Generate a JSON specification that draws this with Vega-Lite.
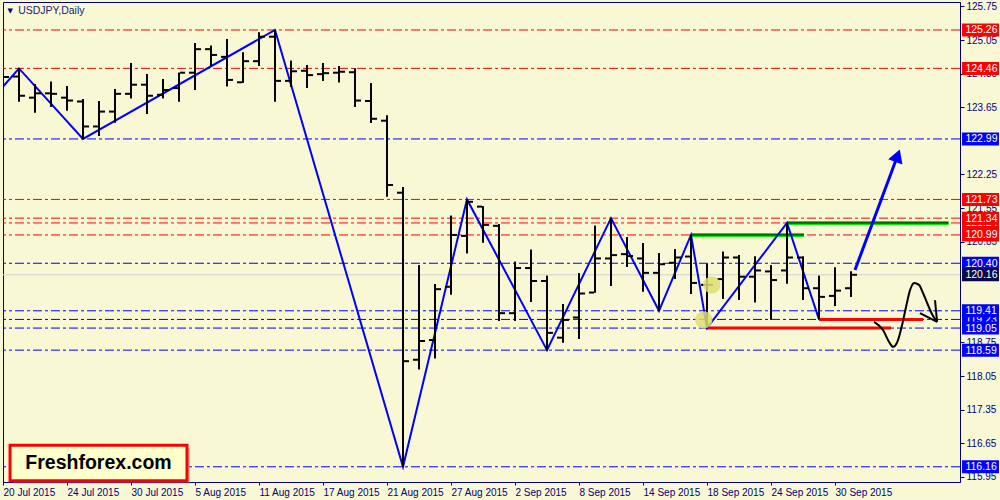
{
  "$schema": "https://vega.github.io/schema/vega-lite/v6.json",
  "width": 957,
  "height": 480,
  "padding": {"left": 3, "top": 2, "right": 40, "bottom": 18},
  "autosize": {"type": "none"},
  "background": "#f8f8d4",
  "config": {
    "font": "Liberation Sans",
    "view": {"stroke": "#000080", "strokeWidth": 1, "fill": "#f8f8d4"},
    "axis": {"grid": false, "domainColor": "#000080", "tickColor": "#000080", "labelColor": "#000080", "labelFont": "Liberation Sans", "labelFontSize": 10, "labelOverlap": false, "labelFlush": false, "labelBound": false}
  },
  "datasets": {
    "bars": [
      {"i":0,"o":124.10,"h":124.34,"l":124.03,"c":124.28},
      {"i":1,"o":124.29,"h":124.46,"l":123.77,"c":123.89},
      {"i":2,"o":123.85,"h":124.13,"l":123.54,"c":123.94},
      {"i":3,"o":123.94,"h":124.18,"l":123.66,"c":123.93},
      {"i":4,"o":123.85,"h":124.09,"l":123.58,"c":123.79},
      {"i":5,"o":123.77,"h":123.82,"l":122.99,"c":123.25},
      {"i":6,"o":123.25,"h":123.78,"l":123.05,"c":123.56},
      {"i":7,"o":123.56,"h":124.03,"l":123.33,"c":123.93},
      {"i":8,"o":123.93,"h":124.57,"l":123.84,"c":124.12},
      {"i":9,"o":124.12,"h":124.34,"l":123.51,"c":123.89},
      {"i":10,"o":123.91,"h":124.24,"l":123.84,"c":124.01},
      {"i":11,"o":124.05,"h":124.37,"l":123.77,"c":124.37},
      {"i":12,"o":124.37,"h":124.99,"l":124.01,"c":124.86},
      {"i":13,"o":124.86,"h":124.93,"l":124.50,"c":124.74},
      {"i":14,"o":124.70,"h":125.07,"l":124.09,"c":124.22},
      {"i":15,"o":124.17,"h":124.79,"l":124.16,"c":124.61},
      {"i":16,"o":124.61,"h":125.21,"l":124.51,"c":125.12},
      {"i":17,"o":125.12,"h":125.26,"l":123.77,"c":124.20},
      {"i":18,"o":124.20,"h":124.62,"l":124.07,"c":124.40},
      {"i":19,"o":124.41,"h":124.53,"l":124.05,"c":124.32},
      {"i":20,"o":124.34,"h":124.57,"l":124.20,"c":124.36},
      {"i":21,"o":124.37,"h":124.51,"l":124.17,"c":124.39},
      {"i":22,"o":124.38,"h":124.46,"l":123.66,"c":123.79},
      {"i":23,"o":123.78,"h":124.15,"l":123.32,"c":123.41},
      {"i":24,"o":123.37,"h":123.48,"l":121.79,"c":122.03},
      {"i":25,"o":121.87,"h":121.99,"l":116.16,"c":118.36},
      {"i":26,"o":118.39,"h":120.36,"l":118.19,"c":118.78},
      {"i":27,"o":118.80,"h":119.97,"l":118.42,"c":119.86},
      {"i":28,"o":119.91,"h":121.39,"l":119.75,"c":120.99},
      {"i":29,"o":120.97,"h":121.73,"l":120.61,"c":121.68},
      {"i":30,"o":121.58,"h":121.59,"l":120.83,"c":121.20},
      {"i":31,"o":121.18,"h":121.22,"l":119.20,"c":119.36},
      {"i":32,"o":119.36,"h":120.43,"l":119.20,"c":120.30},
      {"i":33,"o":120.30,"h":120.68,"l":119.60,"c":120.03},
      {"i":34,"o":120.03,"h":120.14,"l":118.59,"c":118.95},
      {"i":35,"o":118.85,"h":119.55,"l":118.75,"c":119.22},
      {"i":36,"o":119.27,"h":120.19,"l":118.82,"c":119.77},
      {"i":37,"o":119.79,"h":121.18,"l":119.79,"c":120.50},
      {"i":38,"o":120.50,"h":121.34,"l":119.93,"c":120.57},
      {"i":39,"o":120.59,"h":120.94,"l":120.32,"c":120.55},
      {"i":40,"o":120.50,"h":120.82,"l":119.81,"c":120.20},
      {"i":41,"o":120.20,"h":120.61,"l":119.41,"c":120.38},
      {"i":42,"o":120.41,"h":120.69,"l":120.07,"c":120.52},
      {"i":43,"o":120.54,"h":120.99,"l":119.76,"c":119.99},
      {"i":44,"o":119.95,"h":120.39,"l":119.05,"c":119.95},
      {"i":45,"o":120.07,"h":120.64,"l":119.66,"c":120.52},
      {"i":46,"o":120.52,"h":120.57,"l":119.64,"c":120.12},
      {"i":47,"o":120.12,"h":120.54,"l":119.59,"c":120.25},
      {"i":48,"o":120.23,"h":120.36,"l":119.23,"c":120.05},
      {"i":49,"o":120.25,"h":121.24,"l":119.98,"c":120.52},
      {"i":50,"o":120.52,"h":120.54,"l":119.64,"c":119.88},
      {"i":51,"o":119.88,"h":120.14,"l":119.23,"c":119.70},
      {"i":52,"o":119.72,"h":120.31,"l":119.51,"c":119.83},
      {"i":53,"o":119.88,"h":120.23,"l":119.70,"c":120.16}
    ],
    "zig": [
      {"i":-1,"p":123.70},{"i":1,"p":124.46},{"i":5,"p":122.99},{"i":17,"p":125.26},
      {"i":25,"p":116.16},{"i":29,"p":121.73},{"i":34,"p":118.59},{"i":38,"p":121.34},
      {"i":41,"p":119.41},{"i":43,"p":120.99},{"i":44,"p":119.05},{"i":49,"p":121.24},
      {"i":51,"p":119.23}
    ],
    "levels": [
      {"p":125.26,"k":"r"},{"p":124.46,"k":"r"},{"p":121.73,"k":"r"},{"p":121.34,"k":"r"},
      {"p":121.24,"k":"r"},{"p":120.99,"k":"r"},
      {"p":122.99,"k":"b"},{"p":120.40,"k":"b"},{"p":119.41,"k":"b"},{"p":119.23,"k":"b"},
      {"p":119.05,"k":"b"},{"p":118.59,"k":"b"},{"p":116.16,"k":"b"}
    ],
    "hiddenboxes": [{"p":121.24,"k":"r"},{"p":119.23,"k":"b"}],
    "boxes": [
      {"p":125.26,"k":"r"},{"p":124.46,"k":"r"},{"p":122.99,"k":"b"},{"p":121.73,"k":"r"},
      {"p":121.34,"k":"r"},{"p":120.99,"k":"r"},{"p":120.40,"k":"b"},{"p":120.16,"k":"n"},
      {"p":119.41,"k":"b"},{"p":119.05,"k":"b"},{"p":118.59,"k":"b"},{"p":116.16,"k":"b"}
    ],
    "bid": [{"p":120.16}],
    "green": [{"a":43,"b":50.06,"p":120.99},{"a":49,"b":59.1,"p":121.24}],
    "redseg": [{"a":44,"b":55.5,"p":119.05},{"a":51,"b":57.5,"p":119.23}],
    "arrow": [{"i":53.25,"p":120.26},{"i":55.91,"p":122.64}],
    "arrowhead": [{"i":55.91,"p":122.64}],
    "curve": [
      {"i":54.44,"p":119.18},{"i":55.0,"p":119.01},{"i":55.38,"p":118.76},{"i":55.63,"p":118.66},
      {"i":55.94,"p":118.80},{"i":56.19,"p":119.11},{"i":56.44,"p":119.49},{"i":56.69,"p":119.84},
      {"i":56.94,"p":119.99},{"i":57.25,"p":119.95},{"i":57.5,"p":119.78},{"i":57.81,"p":119.53},
      {"i":58.13,"p":119.30},{"i":58.38,"p":119.18}
    ],
    "curvehead": [
      {"g":"a","i":57.31,"p":119.36},{"g":"a","i":58.38,"p":119.18},
      {"g":"b","i":58.25,"p":119.63},{"g":"b","i":58.38,"p":119.18}
    ],
    "spots": [{"i":44.3,"p":119.95},{"i":43.8,"p":119.22}]
  },
  "layer": [
    {
      "data": {"name": "bars"},
      "mark": {"type": "rule", "strokeWidth": 2, "color": "#000000", "clip": true},
      "encoding": {
        "x": {"field": "i", "type": "quantitative", "scale": {"domain": [0, 59.8125], "nice": false, "zero": false, "padding": 0},
          "axis": {"title": null, "orient": "bottom", "grid": false, "values": [0,4,8,12,16,20,24,28,32,36,40,44,48,52], "tickSize": 3, "labelAlign": "left", "labelBaseline": "top", "labelPadding": 2, "labelFlush": false, "labelOverlap": false, "labelBound": false,
            "labelExpr": "['20 Jul 2015','24 Jul 2015','30 Jul 2015','5 Aug 2015','11 Aug 2015','17 Aug 2015','21 Aug 2015','27 Aug 2015','2 Sep 2015','8 Sep 2015','14 Sep 2015','18 Sep 2015','24 Sep 2015','30 Sep 2015'][datum.value/4]"}},
        "y": {"field": "l", "type": "quantitative", "scale": {"domain": [115.843, 125.843], "nice": false, "zero": false, "padding": 0},
          "axis": {"title": null, "orient": "right", "grid": false, "values": [125.75,125.05,124.35,123.65,122.25,121.55,120.85,118.75,118.05,117.35,116.65,115.95], "format": ".2f", "tickSize": 4, "labelAlign": "left", "labelPadding": 2, "labelFlush": false, "labelOverlap": false, "labelBound": false}},
        "y2": {"field": "h"}
      }
    },
    {
      "data": {"name": "levels"},
      "mark": {"type": "rule", "strokeWidth": 1, "strokeDash": [9, 3, 3, 3]},
      "encoding": {
        "y": {"field": "p", "type": "quantitative"},
        "color": {"field": "k", "type": "nominal", "scale": {"domain": ["r", "b", "n"], "range": ["#ff0000", "#0000ff", "#0a0a46"]}, "legend": null}
      }
    },
    {
      "data": {"name": "bid"},
      "mark": {"type": "rule", "strokeWidth": 1, "color": "#d2d2d2"},
      "encoding": {"y": {"field": "p", "type": "quantitative"}}
    },
    {
      "data": {"name": "green"},
      "mark": {"type": "rule", "strokeWidth": 4, "color": "#00ee00"},
      "encoding": {
        "x": {"field": "a", "type": "quantitative"},
        "x2": {"field": "b"},
        "y": {"field": "p", "type": "quantitative"}
      }
    },
    {
      "data": {"name": "green"},
      "mark": {"type": "rule", "strokeWidth": 1, "color": "#000000"},
      "encoding": {
        "x": {"field": "a", "type": "quantitative"},
        "x2": {"field": "b"},
        "y": {"field": "p", "type": "quantitative"}
      }
    },
    {
      "data": {"name": "redseg"},
      "mark": {"type": "rule", "strokeWidth": 3, "color": "#ff0000"},
      "encoding": {
        "x": {"field": "a", "type": "quantitative"},
        "x2": {"field": "b"},
        "y": {"field": "p", "type": "quantitative"}
      }
    },
    {
      "data": {"name": "zig"},
      "mark": {"type": "line", "strokeWidth": 2, "color": "#0000ff", "clip": true},
      "encoding": {
        "x": {"field": "i", "type": "quantitative"},
        "y": {"field": "p", "type": "quantitative"},
        "order": {"field": "i"}
      }
    },
    {
      "data": {"name": "bars"},
      "mark": {"type": "rule", "strokeWidth": 2, "color": "#000000", "clip": true},
      "encoding": {
        "x": {"field": "i", "type": "quantitative"},
        "y": {"field": "l", "type": "quantitative"},
        "y2": {"field": "h"}
      }
    },
    {
      "data": {"name": "bars"},
      "mark": {"type": "rule", "strokeWidth": 2, "color": "#000000", "clip": true, "xOffset": -6, "x2Offset": -1},
      "encoding": {
        "x": {"field": "i", "type": "quantitative"},
        "x2": {"field": "i"},
        "y": {"field": "o", "type": "quantitative"}
      }
    },
    {
      "data": {"name": "bars"},
      "mark": {"type": "rule", "strokeWidth": 2, "color": "#000000", "clip": true, "xOffset": 1, "x2Offset": 6},
      "encoding": {
        "x": {"field": "i", "type": "quantitative"},
        "x2": {"field": "i"},
        "y": {"field": "c", "type": "quantitative"}
      }
    },
    {
      "data": {"name": "spots"},
      "mark": {"type": "point", "filled": true, "color": "#dede6e", "opacity": 0.85, "size": 300},
      "encoding": {
        "x": {"field": "i", "type": "quantitative"},
        "y": {"field": "p", "type": "quantitative"}
      }
    },
    {
      "data": {"name": "arrow"},
      "mark": {"type": "line", "strokeWidth": 3, "color": "#0000ff"},
      "encoding": {
        "x": {"field": "i", "type": "quantitative"},
        "y": {"field": "p", "type": "quantitative"}
      }
    },
    {
      "data": {"name": "arrowhead"},
      "mark": {"type": "point", "shape": "triangle-up", "filled": true, "color": "#0000ff", "opacity": 1, "size": 230, "angle": 20},
      "encoding": {
        "x": {"field": "i", "type": "quantitative"},
        "y": {"field": "p", "type": "quantitative"}
      }
    },
    {
      "data": {"name": "curve"},
      "mark": {"type": "line", "strokeWidth": 2, "color": "#000000", "interpolate": "monotone"},
      "encoding": {
        "x": {"field": "i", "type": "quantitative"},
        "y": {"field": "p", "type": "quantitative"}
      }
    },
    {
      "data": {"name": "curvehead"},
      "mark": {"type": "line", "strokeWidth": 2, "color": "#000000"},
      "encoding": {
        "x": {"field": "i", "type": "quantitative"},
        "y": {"field": "p", "type": "quantitative"},
        "detail": {"field": "g"}
      }
    },
    {
      "data": {"name": "hiddenboxes"},
      "mark": {"type": "bar", "orient": "horizontal", "size": 13, "clip": false},
      "encoding": {
        "x": {"datum": 59.94, "type": "quantitative"},
        "x2": {"datum": 62.25},
        "y": {"field": "p", "type": "quantitative"},
        "color": {"field": "k", "type": "nominal", "legend": null}
      }
    },
    {
      "data": {"name": "hiddenboxes"},
      "mark": {"type": "text", "align": "left", "baseline": "middle", "fontSize": 10.5, "color": "#ffffff", "clip": false, "dy": 0.5},
      "encoding": {
        "x": {"datum": 60.15, "type": "quantitative"},
        "y": {"field": "p", "type": "quantitative"},
        "text": {"field": "p", "type": "quantitative", "format": ".2f"}
      }
    },
    {
      "data": {"name": "boxes"},
      "mark": {"type": "bar", "orient": "horizontal", "size": 13, "clip": false},
      "encoding": {
        "x": {"datum": 59.94, "type": "quantitative"},
        "x2": {"datum": 62.25},
        "y": {"field": "p", "type": "quantitative"},
        "color": {"field": "k", "type": "nominal", "legend": null}
      }
    },
    {
      "data": {"name": "boxes"},
      "mark": {"type": "text", "align": "left", "baseline": "middle", "fontSize": 10.5, "color": "#ffffff", "clip": false, "dy": 0.5},
      "encoding": {
        "x": {"datum": 60.15, "type": "quantitative"},
        "y": {"field": "p", "type": "quantitative"},
        "text": {"field": "p", "type": "quantitative", "format": ".2f"}
      }
    },
    {
      "data": {"values": [{"t": "▼"}]},
      "mark": {"type": "text", "align": "center", "baseline": "middle", "fontSize": 7, "font": "DejaVu Sans", "color": "#000080"},
      "encoding": {
        "x": {"datum": 0.45, "type": "quantitative"},
        "y": {"datum": 125.665, "type": "quantitative"},
        "text": {"field": "t"}
      }
    },
    {
      "data": {"values": [{"t": "USDJPY,Daily"}]},
      "mark": {"type": "text", "align": "left", "baseline": "middle", "fontSize": 10.5, "color": "#202078"},
      "encoding": {
        "x": {"datum": 0.95, "type": "quantitative"},
        "y": {"datum": 125.66, "type": "quantitative"},
        "text": {"field": "t"}
      }
    },
    {
      "data": {"values": [{"t": "Freshforex.com"}]},
      "mark": {"type": "rect", "color": "#888888", "opacity": 0.45, "xOffset": 3, "x2Offset": 3, "yOffset": 3, "y2Offset": 3, "clip": false},
      "encoding": {
        "x": {"datum": 0.44, "type": "quantitative"},
        "x2": {"datum": 11.5},
        "y": {"datum": 116.61, "type": "quantitative"},
        "y2": {"datum": 115.87}
      }
    },
    {
      "data": {"values": [{"t": "Freshforex.com"}]},
      "mark": {"type": "rect", "fill": "#ffffcc", "stroke": "#ff0000", "strokeWidth": 3, "clip": false},
      "encoding": {
        "x": {"datum": 0.44, "type": "quantitative"},
        "x2": {"datum": 11.5},
        "y": {"datum": 116.61, "type": "quantitative"},
        "y2": {"datum": 115.87}
      }
    },
    {
      "data": {"values": [{"t": "Freshforex.com"}]},
      "mark": {"type": "text", "align": "center", "baseline": "middle", "fontSize": 19.5, "fontWeight": "bold", "color": "#000000", "font": "Liberation Sans"},
      "encoding": {
        "x": {"datum": 5.97, "type": "quantitative"},
        "y": {"datum": 116.23, "type": "quantitative"},
        "text": {"field": "t"}
      }
    }
  ]
}
